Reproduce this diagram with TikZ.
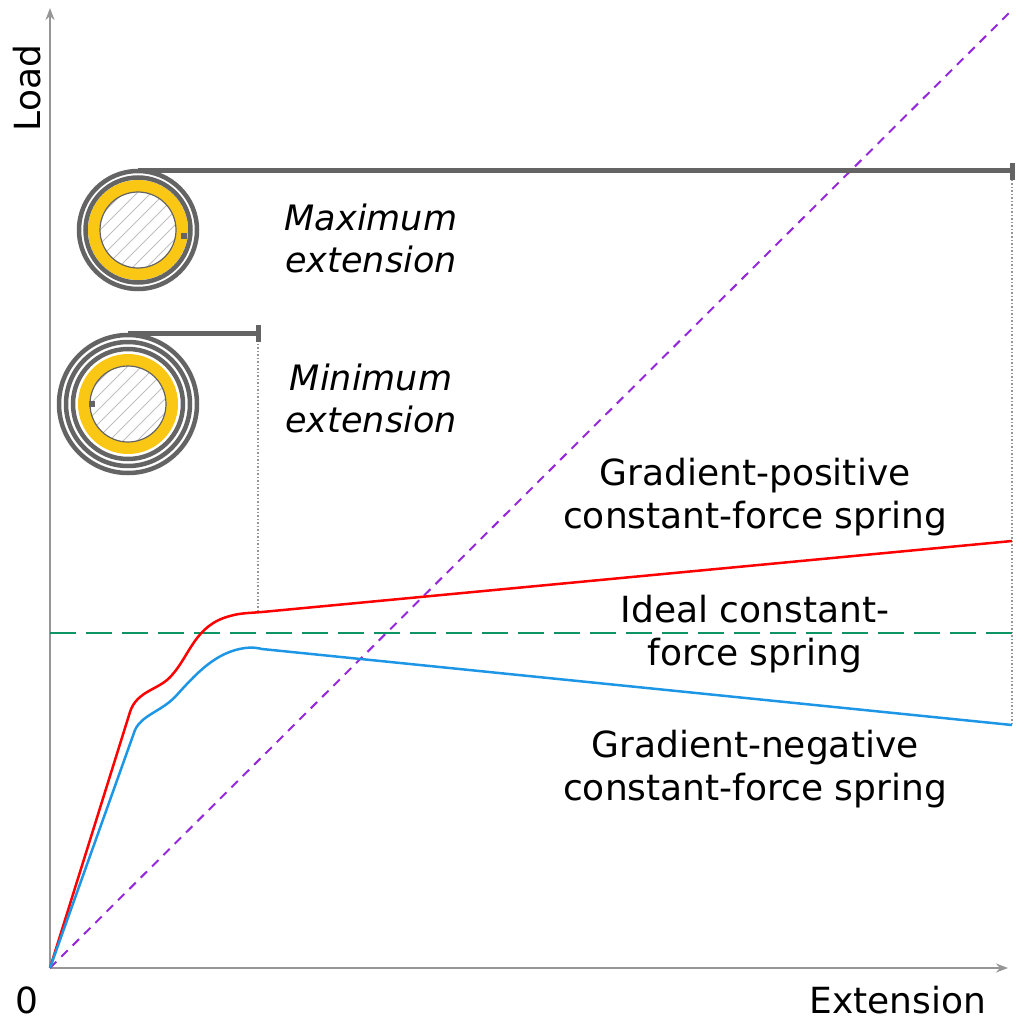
\documentclass[tikz,border=0pt]{standalone}
\usepackage{fontspec}
\setmainfont{DejaVu Sans}
\usetikzlibrary{arrows.meta}
\definecolor{ax}{RGB}{150,150,150}
\definecolor{coil}{RGB}{100,100,100}
\definecolor{gold}{RGB}{250,200,20}
\definecolor{grn}{RGB}{10,150,100}
\definecolor{purp}{RGB}{150,40,220}
\definecolor{blu}{RGB}{30,150,230}
\begin{document}
\begin{tikzpicture}[x=1pt,y=-1pt,
  lab/.style={font=\fontsize{36}{43}\selectfont,align=center},
  ital/.style={font=\itshape\fontsize{35}{42}\selectfont,align=center},
  strip/.style={draw=coil,line width=5pt},
  dots/.style={draw=ax,line width=1.5pt,dotted}]
\useasboundingbox (0,0) rectangle (1024,1024);
% axes
\coordinate (O) at (50,968);
\coordinate (yt) at (50,8);
\coordinate (xt) at (1008,968);
\draw[ax,line width=2pt,-{Stealth[length=12pt]}] (O) -- (yt);
\draw[ax,line width=2pt,-{Stealth[length=12pt]}] (O) -- (xt);
\node[lab,rotate=90] (ly) at (27,88) {Load};
\node[lab] (l0) at (27,1000) {0};
\node[lab] (lx) at (898,1000) {Extension};
% dotted guides
\draw[dots] (258,340) -- (258,612);
\draw[dots] (1012,180) -- (1012,725);
% lines
\draw[purp,line width=2pt,dash pattern=on 9pt off 7pt] (O) -- (1010,12);
\draw[grn,line width=2.5pt,dash pattern=on 26pt off 10pt] (50,633) -- (1012,633);
\draw[red,line width=2.5pt] (O) -- (130,712) .. controls (137,690) and (160,690) .. (172,675)
  .. controls (190,655) and (195,625) .. (230,616) .. controls (240,613) and (250,613) .. (262,612) -- (1012,541);
\draw[blu,line width=2.5pt] (O) -- (135,730) .. controls (142,715) and (160,712) .. (175,697)
  .. controls (195,675) and (215,652) .. (245,648) .. controls (252,647) and (258,648) .. (262,649) -- (1012,725);
% top spring
\begin{scope}[shift={(138,230)}]
  \begin{scope}
    \clip (0,0) circle (38);
    \foreach \k in {-80,-66,...,80} \draw[ax!60,line width=0.8pt] (\k-60,60) -- (\k+60,-60);
  \end{scope}
  \draw[gold,line width=12pt] (0,0) circle (44);
  \draw[coil,line width=1.2pt] (0,0) circle (38);
  \draw[coil,line width=4.5pt] (0,0) circle (52.5);
  \draw[coil,line width=4.5pt] (0,0) circle (59);
  \fill[coil] (43,3) rectangle (49,9);
\end{scope}
\draw[strip] (138,171) -- (1012,171);
\draw[coil,line width=5pt] (1012,163) -- (1012,180);
% bottom spring
\begin{scope}[shift={(128,404)}]
  \begin{scope}
    \clip (0,0) circle (38);
    \foreach \k in {-80,-66,...,80} \draw[ax!60,line width=0.8pt] (\k-60,60) -- (\k+60,-60);
  \end{scope}
  \draw[gold,line width=12pt] (0,0) circle (44);
  \draw[coil,line width=1.2pt] (0,0) circle (38);
  \draw[coil,line width=4.5pt] (0,0) circle (55);
  \draw[coil,line width=4.5pt] (0,0) circle (62);
  \draw[coil,line width=4.5pt] (0,0) circle (69);
  \draw[coil,line width=4pt] (-55,-8) -- (-55,2);
  \fill[coil] (-39,-3) rectangle (-33,3);
\end{scope}
\draw[strip] (128,333) -- (258,333);
\draw[coil,line width=5pt] (258,325) -- (258,342);
% labels
\node[ital] (tmax) at (371,238) {Maximum\\extension};
\node[ital] (tmin) at (371,398) {Minimum\\extension};
\node[lab] (tpos) at (755,497) {Gradient-positive\\constant-force spring};
\node[lab] (tid) at (755,634) {Ideal constant-\\force spring};
\node[lab] (tneg) at (755,769) {Gradient-negative\\constant-force spring};
\end{tikzpicture}
\end{document}
